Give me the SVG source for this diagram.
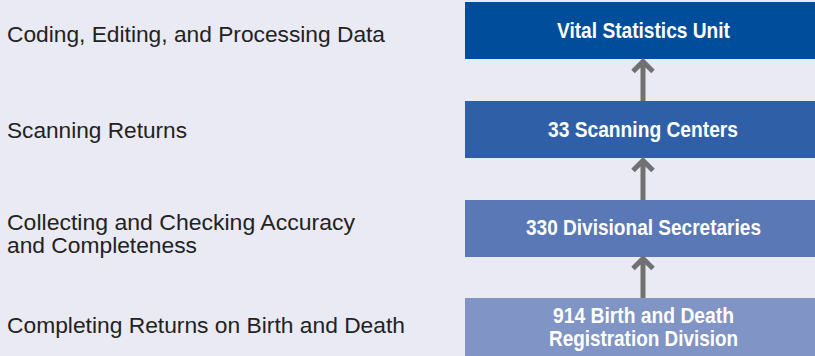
<svg xmlns="http://www.w3.org/2000/svg" width="815" height="356" viewBox="0 0 815 356">
<style>
.lbl{font-family:"Liberation Sans",Arial,sans-serif;font-size:22px;fill:#222;}
.bt{font-family:"Liberation Sans",Arial,sans-serif;font-size:22px;font-weight:bold;fill:#fff;text-anchor:middle;}
.arr{fill:none;stroke:#717171;stroke-width:5;}
</style>
<rect width="815" height="356" fill="#eaeaf4"/>
<g id="labels">
<text class="lbl" x="7" y="42" textLength="378" lengthAdjust="spacingAndGlyphs">Coding, Editing, and Processing Data</text>
<text class="lbl" x="7" y="138" textLength="180" lengthAdjust="spacingAndGlyphs">Scanning Returns</text>
<text class="lbl" x="7" y="230" textLength="348" lengthAdjust="spacingAndGlyphs">Collecting and Checking Accuracy</text>
<text class="lbl" x="7" y="253" textLength="190" lengthAdjust="spacingAndGlyphs">and Completeness</text>
<text class="lbl" x="7" y="333" textLength="398" lengthAdjust="spacingAndGlyphs">Completing Returns on Birth and Death</text>
</g>
<g id="n1">
<rect x="465" y="2" width="350" height="57" fill="#004e9b"/>
<text class="bt" x="643.5" y="38" textLength="173" lengthAdjust="spacingAndGlyphs">Vital Statistics Unit</text>
</g>
<g id="n2">
<rect x="465" y="101" width="350" height="57" fill="#2f60a7"/>
<text class="bt" x="643" y="137" textLength="190" lengthAdjust="spacingAndGlyphs">33 Scanning Centers</text>
</g>
<g id="n3">
<rect x="465" y="200" width="350" height="57" fill="#5a78b5"/>
<text class="bt" x="643.5" y="235" textLength="235" lengthAdjust="spacingAndGlyphs">330 Divisional Secretaries</text>
</g>
<g id="n4">
<rect x="465" y="298" width="350" height="58" fill="#8094c6"/>
<text class="bt" x="643.5" y="323" textLength="181" lengthAdjust="spacingAndGlyphs">914 Birth and Death</text>
<text class="bt" x="643.5" y="346" textLength="189" lengthAdjust="spacingAndGlyphs">Registration Division</text>
</g>
<g id="connectors">
<path class="arr" d="M643 101V62M633 71.5L643 61.5L653 71.5"/>
<path class="arr" d="M643 200V161M633 170.5L643 160.5L653 170.5"/>
<path class="arr" d="M643 298V259M633 268.5L643 258.5L653 268.5"/>
</g>
</svg>
